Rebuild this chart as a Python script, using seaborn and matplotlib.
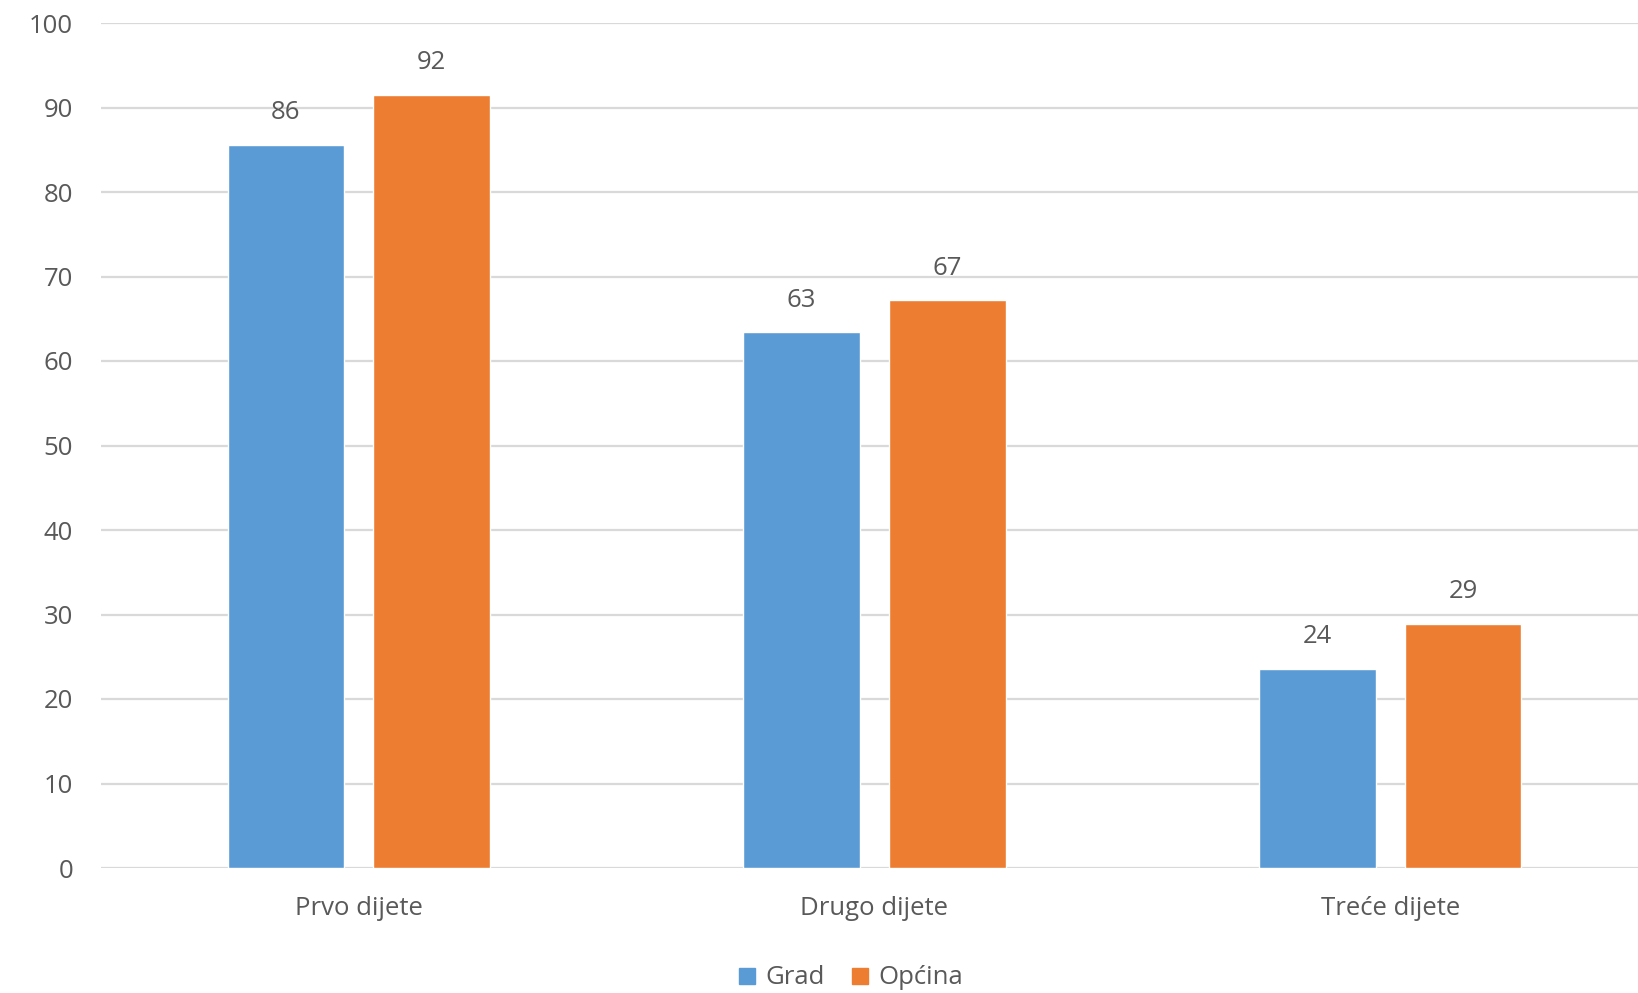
import matplotlib
matplotlib.use("Agg")
import matplotlib.pyplot as plt
import seaborn as sns
import pandas as pd

categories = ["Prvo dijete", "Drugo dijete", "Treće dijete"]
series = ["Grad", "Općina"]
grad = [85.6, 63.4, 23.6]
opcina = [91.5, 67.2, 28.9]
colors = ["#5B9BD5", "#ED7D31"]
yticks = [0, 10, 20, 30, 40, 50, 60, 70, 80, 90, 100]

df = pd.DataFrame({
    "cat": categories * 2,
    "series": [series[0]] * 3 + [series[1]] * 3,
    "value": grad + opcina,
})

sns.set_theme(style="white")
plt.rcParams["font.family"] = ["Open Sans", "DejaVu Sans"]
text_color = "#595959"
fs = 18.5

fig = plt.figure(figsize=(16.38, 9.93), dpi=100)
ax = fig.add_axes([101 / 1638, 1 - 868 / 993, (1648 - 101) / 1638, (868 - 23) / 993])

sns.barplot(data=df, x="cat", y="value", hue="series", order=categories,
            hue_order=series, palette=colors, width=0.565, gap=0.2,
            saturation=1, ax=ax, legend=False, zorder=3)

for cont in ax.containers:
    ax.bar_label(cont, fmt="%.0f", padding=14, fontsize=fs, color=text_color)

ax.set_ylim(0, 100)
ax.set_xlim(-0.5, 2.5)
ax.set_yticks(yticks)
ax.yaxis.grid(True, color="#D9D9D9", linewidth=1.6, zorder=0)
ax.set_axisbelow(True)
for s in ax.spines.values():
    s.set_visible(False)
ax.set_xlabel("")
ax.set_ylabel("")
ax.tick_params(axis="both", length=0, labelsize=fs, labelcolor=text_color)
ax.tick_params(axis="y", pad=20)
ax.tick_params(axis="x", pad=20)

handles = [plt.Line2D([], [], marker="s", linestyle="", markersize=12,
                      markerfacecolor=c, markeredgecolor=c) for c in colors]
fig.legend(handles, series, loc="center", bbox_to_anchor=(850 / 1638, 1 - 978 / 993),
           ncol=2, frameon=False, fontsize=fs, handlelength=0.8, handletextpad=0.3,
           columnspacing=1.0, labelcolor=text_color)

fig.savefig("out.png", dpi=100, facecolor="white")
